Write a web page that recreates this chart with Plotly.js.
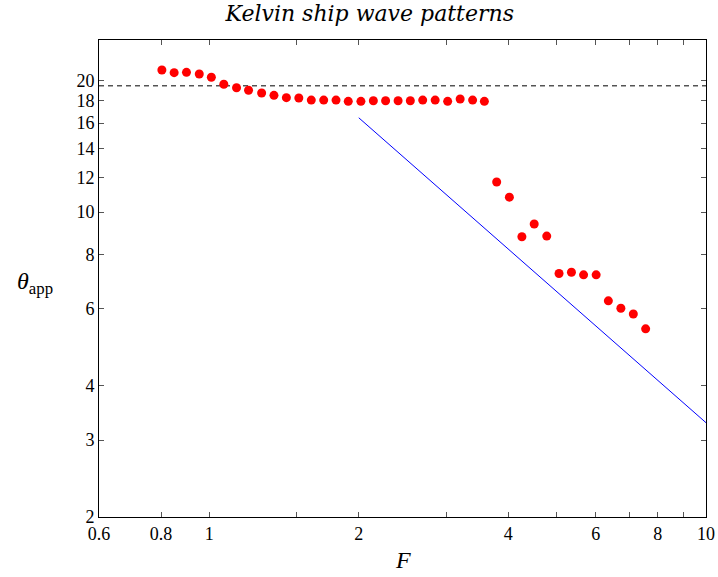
<!DOCTYPE html>
<html>
<head>
<meta charset="utf-8">
<script src="https://cdn.plot.ly/plotly-3.0.1.min.js"></script>
<style>html,body{margin:0;padding:0;background:#fff}#chart{width:718px;height:577px}</style>
</head>
<body>
<div id="chart"></div>
<script>
// Measured Froude numbers and apparent wake angles (degrees)
const froude = [0.803, 0.85, 0.90, 0.955, 1.01, 1.07, 1.135, 1.20, 1.275, 1.35, 1.43, 1.515, 1.605, 1.70, 1.80, 1.905, 2.02, 2.14, 2.265, 2.40, 2.54, 2.69, 2.85, 3.02, 3.20, 3.39, 3.58,
                3.79, 4.02, 4.26, 4.51, 4.78, 5.06, 5.36, 5.67, 6.01, 6.36, 6.74, 7.14, 7.56];
const thetaApp = [21.17, 20.87, 20.91, 20.73, 20.37, 19.63, 19.28, 19.02, 18.75, 18.52, 18.29, 18.26, 18.06, 18.06, 18.06, 17.94, 17.94, 18.0, 18.0, 18.0, 18.0, 18.06, 18.06, 17.94, 18.16, 18.06, 17.94,
                  11.72, 10.82, 8.78, 9.39, 8.81, 7.23, 7.28, 7.18, 7.18, 6.26, 6.02, 5.84, 5.40];
// Kelvin angle reference line
const kelvinX = [0.6, 10];
const kelvinY = [19.47, 19.47];
// 1/F asymptote
const asymX = [2, 10];
const asymY = [16.45, 3.29];

const xTickVals = [0.6, 0.8, 1, 1.5, 2, 3, 4, 5, 6, 7, 8, 9, 10];
const xTickText = ['0.6', '0.8', '1', '', '2', '', '4', '', '6', '', '8', '', '10'];
const yTickVals = [2, 3, 4, 6, 8, 10, 12, 14, 16, 18, 20];
const yTickText = ['2', '3', '4', '6', '8', '10', '12', '14', '16', '18', '20'];

const serif = 'Liberation Serif, DejaVu Serif, serif';

const traces = [
  {x: kelvinX, y: kelvinY, mode: 'lines', line: {color: '#000', width: 1, dash: '5px,4px'}, hoverinfo: 'skip'},
  {x: asymX, y: asymY, mode: 'lines', line: {color: '#0000ff', width: 1}},
  {x: froude, y: thetaApp, mode: 'markers', marker: {color: '#ff0000', size: 9}}
];

const axisCommon = {
  type: 'log', showgrid: false, zeroline: false,
  showline: true, linecolor: '#000', linewidth: 1, mirror: 'ticks',
  ticks: 'inside', ticklen: 5, tickcolor: '#555', tickwidth: 1,
  tickfont: {family: serif, size: 18, color: '#000'}, tickmode: 'array'
};

const layout = {
  width: 718, height: 577,
  margin: {l: 99, r: 12, t: 40, b: 60},
  paper_bgcolor: '#fff', plot_bgcolor: '#fff',
  showlegend: false,
  title: {text: '<i>Kelvin ship wave patterns</i>', font: {family: 'DejaVu Serif, serif', size: 22, color: '#000'},
          x: 0.515, xref: 'container', xanchor: 'center', y: 0.99, yref: 'container', yanchor: 'top'},
  xaxis: Object.assign({}, axisCommon, {range: [Math.log10(0.6), 1], tickvals: xTickVals, ticktext: xTickText}),
  yaxis: Object.assign({}, axisCommon, {range: [Math.log10(2), Math.log10(24.8)], tickvals: yTickVals, ticktext: yTickText}),
  annotations: [
    {text: '<i>F</i>', xref: 'paper', yref: 'paper', x: 0.5, y: -0.058, yanchor: 'top', showarrow: false,
     font: {family: serif, size: 24, color: '#000'}},
    {text: '<i>θ</i><sub>app</sub>', xref: 'paper', yref: 'paper', x: -0.105, y: 0.49, xanchor: 'center', showarrow: false,
     font: {family: serif, size: 24, color: '#000'}}
  ]
};

Plotly.newPlot('chart', traces, layout, {displayModeBar: false, staticPlot: true});
</script>
</body>
</html>
